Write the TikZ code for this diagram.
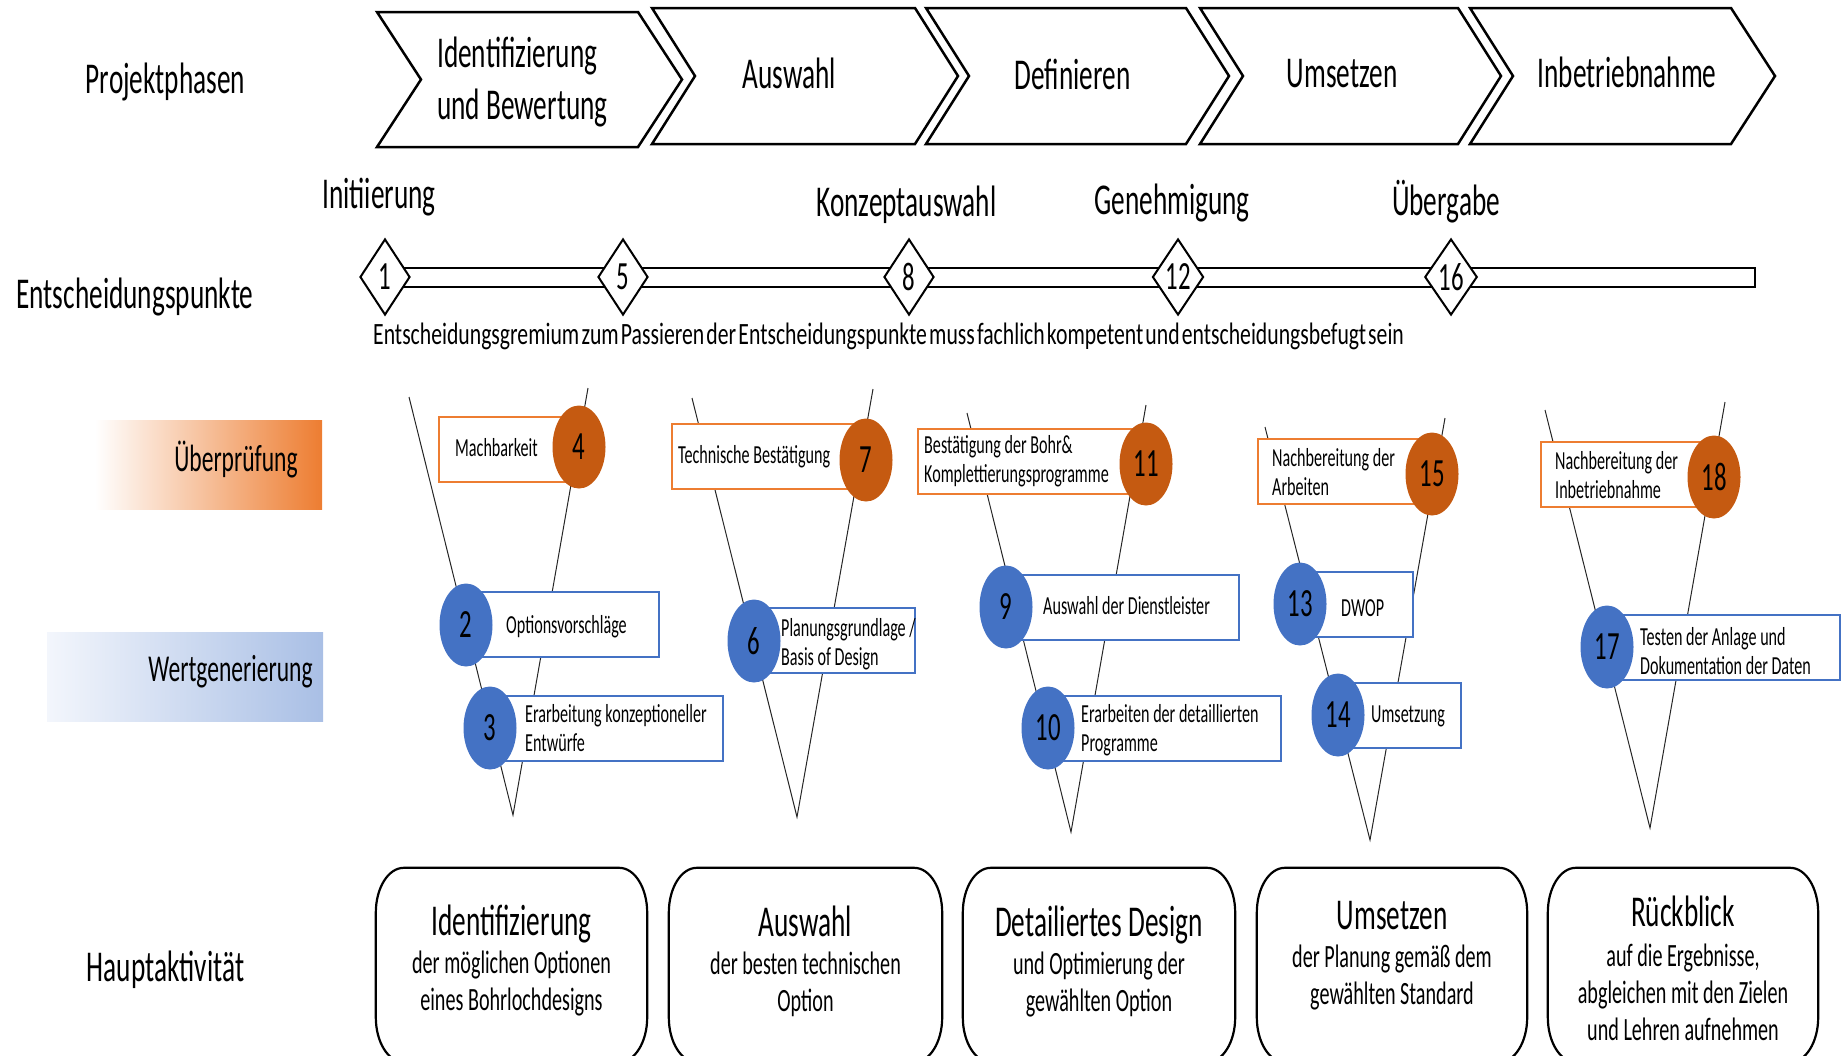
\documentclass[tikz,border=0pt]{standalone}
\usepackage{fontspec}
\setmainfont{Carlito}[FakeStretch=0.62]
\newfontfamily\notefont{Carlito}[FakeStretch=0.7]
\usetikzlibrary{shapes.geometric,calc}

\definecolor{oline}{HTML}{ED7D31}
\definecolor{odisk}{HTML}{C55A11}
\definecolor{bline}{HTML}{4472C4}
\definecolor{gbluer}{HTML}{A9BFE5}
\definecolor{gbluel}{HTML}{F3F6FC}

\pgfdeclarehorizontalshading{uebshade}{100bp}{color(0bp)=(white); color(25bp)=(white); color(34bp)=(white); color(75bp)=(oline); color(100bp)=(oline)}
\pgfdeclarehorizontalshading{wertshade}{100bp}{color(0bp)=(gbluel); color(25bp)=(gbluel); color(75bp)=(gbluer); color(100bp)=(gbluer)}

\newcommand\fsLbl{\fontsize{44}{50}\selectfont}
\newcommand\fsRow{\fontsize{38}{44}\selectfont}
\newcommand\fsNote{\notefont\fontsize{31}{34}\selectfont\spaceskip=2.2pt\relax}
\newcommand\fsItem{\fontsize{26}{29}\selectfont}
\newcommand\fsNum{\fontsize{40}{44}\selectfont}
\newcommand\fsSub{\fontsize{32.5}{37}\selectfont}

% rounded box with elliptic corners around a node
\newcommand\ellbox[1]{%
  \draw[hframe]
    ($(#1.north west)+(28,0)$) -- ($(#1.north east)+(-28,0)$)
    .. controls ($(#1.north east)+(-12.5,0)$) and ($(#1.north east)+(0,20)$) .. ($(#1.north east)+(0,45)$)
    -- ($(#1.south east)+(0,-45)$)
    .. controls ($(#1.south east)+(0,-20)$) and ($(#1.south east)+(-12.5,0)$) .. ($(#1.south east)+(-28,0)$)
    -- ($(#1.south west)+(28,0)$)
    .. controls ($(#1.south west)+(12.5,0)$) and ($(#1.south west)+(0,-20)$) .. ($(#1.south west)+(0,-45)$)
    -- ($(#1.north west)+(0,45)$)
    .. controls ($(#1.north west)+(0,20)$) and ($(#1.north west)+(12.5,0)$) .. cycle;}

\begin{document}
\begin{tikzpicture}[x=1pt,y=-1pt,
  chev/.style={draw=black,line width=2.5pt,fill=white,line join=miter},
  lbl/.style={font=\fsLbl,inner sep=0pt,anchor=base},
  rowlbl/.style={font=\fsRow,inner sep=0pt,anchor=base},
  funnel/.style={draw=black!85,line width=1pt},
  obox/.style={draw=oline,line width=2pt,fill=white,inner sep=0pt,minimum height=65},
  bbox/.style={draw=bline,line width=2pt,fill=white,inner sep=0pt,minimum height=65},
  odot/.style={ellipse,fill=odisk,inner sep=0pt,minimum width=53,minimum height=83,font=\fsNum},
  bdot/.style={ellipse,fill=bline,inner sep=0pt,minimum width=53,minimum height=83,font=\fsNum},
  itemtext/.style={font=\fsItem,align=left,anchor=west,inner sep=0pt},
  dpoint/.style={diamond,draw=black,line width=2pt,fill=white,inner sep=0pt,minimum width=50,minimum height=76,font=\fsNum},
  bar/.style={draw=black,line width=2pt,fill=white},
  hbox/.style={inner sep=0pt,minimum height=194},
  hframe/.style={draw=black,line width=2.2pt},
  htext/.style={font=\fsSub,align=center,anchor=north,inner sep=0pt}]
\useasboundingbox (0,0) rectangle (1841,1055);

% ---------- project phases ----------
\node[lbl] (lphase) at (165.5,93) {Projektphasen};
\draw[chev] (377,12) -- (638,12) -- (682,79.5) -- (638,147) -- (377,147) -- (421,79.5) -- cycle;
\draw[chev] (652,8) -- (915,8) -- (958,76) -- (915,144) -- (652,144) -- (695,76) -- cycle;
\draw[chev] (926,8) -- (1186,8) -- (1229,76) -- (1186,144) -- (926,144) -- (969,76) -- cycle;
\draw[chev] (1200,8) -- (1458,8) -- (1501,76) -- (1458,144) -- (1200,144) -- (1243,76) -- cycle;
\draw[chev] (1470,8) -- (1731,8) -- (1775,76) -- (1731,144) -- (1470,144) -- (1513,76) -- cycle;
\node[font=\fsLbl,align=left,anchor=north west,inner sep=0pt] (ph1) at (437,37) {Identifizierung\\[2pt]und Bewertung};
\node[lbl] (ph2) at (789.5,88) {Auswahl};
\node[lbl] (ph3) at (1072.5,89) {Definieren};
\node[lbl] (ph4) at (1342,87) {Umsetzen};
\node[lbl] (ph5) at (1627,87) {Inbetriebnahme};

% ---------- decision points ----------
\node[lbl] (ldec) at (135,308) {Entscheidungspunkte};
\node[lbl] (m1) at (379,208) {Initiierung};
\node[lbl] (m8) at (906.5,216) {Konzeptauswahl};
\node[lbl] (m12) at (1172,214) {Genehmigung};
\node[lbl] (m16) at (1446,215) {Übergabe};
\coordinate (barend) at (1755,277);
\coordinate (barstart) at (385,277);
\draw[bar] ($(barstart)+(0,-9.5)$) rectangle ($(barend)+(0,9.5)$);
\node[dpoint] (d1) at (barstart) {1};
\node[dpoint] (d5) at (623,277) {5};
\node[dpoint] (d8) at (909,277) {8};
\node[dpoint] (d12) at (1178,277) {12};
\node[dpoint] (d16) at (1451,277) {16};
\node[font=\fsNote,inner sep=0pt,anchor=base west] (dnote) at (373,344)
  {Entscheidungsgremium zum Passieren der Entscheidungspunkte muss fachlich kompetent und entscheidungsbefugt sein};

% ---------- row labels ----------
\path[shading=uebshade] (45,420) rectangle (322,509);
\path[shading=wertshade] (47,632) rectangle (323,721);
\node[rowlbl] (lueb) at (236,471) {Überprüfung};
\node[rowlbl] (lwert) at (230.5,681) {Wertgenerierung};

% ---------- funnels ----------
\coordinate (f1l) at (409,397); \coordinate (f1r) at (588,388); \coordinate (f1b) at (513,815);
\coordinate (f2l) at (692,398); \coordinate (f2r) at (873,389); \coordinate (f2b) at (797,817);
\coordinate (f3l) at (967,413); \coordinate (f3r) at (1146,405); \coordinate (f3b) at (1071,832);
\coordinate (f4l) at (1265,427); \coordinate (f4r) at (1445,418); \coordinate (f4b) at (1370,840);
\coordinate (f5l) at (1545,410); \coordinate (f5r) at (1725,402); \coordinate (f5b) at (1650,828);
\foreach \f in {1,...,5} \draw[funnel] (f\f l) -- (f\f b) -- (f\f r);

% ---------- review boxes ----------
\node[obox,minimum width=140] (ob4) at (509,449.5) {};
\node[obox,minimum width=194] (ob7) at (769,456.5) {};
\node[obox,minimum width=228] (ob11) at (1032,461.5) {};
\node[obox,minimum width=174] (ob15) at (1345,471.5) {};
\node[obox,minimum width=173] (ob18) at (1627.5,474.5) {};
\node[odot] (c4) at (579,447) {4};
\node[odot] (c7) at (866,460) {7};
\node[odot] (c11) at (1146,464) {11};
\node[odot] (c15) at (1432,474) {15};
\node[odot] (c18) at (1714,477) {18};
\node[itemtext] (t4) at (455,448) {Machbarkeit};
\node[itemtext] (t7) at (678,457) {Technische Bestätigung};
\node[itemtext] (t11) at (924,461) {Bestätigung der Bohr\&\\Komplettierungsprogramme};
\node[itemtext] (t15) at (1272,472) {Nachbereitung der\\Arbeiten};
\node[itemtext] (t18) at (1555,475) {Nachbereitung der\\Inbetriebnahme};

% ---------- value generation boxes ----------
\node[bbox,minimum width=193] (bb2) at (562.5,624.5) {};
\node[bbox,minimum width=233] (bb3) at (606.5,728.5) {};
\node[bbox,minimum width=161] (bb6) at (834.5,640.5) {};
\node[bbox,minimum width=233] (bb9) at (1122.5,607.5) {};
\node[bbox,minimum width=233] (bb10) at (1164.5,728.5) {};
\node[bbox,minimum width=113] (bb13) at (1356.5,604.5) {};
\node[bbox,minimum width=123] (bb14) at (1399.5,715.5) {};
\node[bbox,minimum width=233] (bb17) at (1723.5,647.5) {};
\node[bdot] (c2) at (466,625) {2};
\node[bdot] (c3) at (490,728) {3};
\node[bdot] (c6) at (754,641) {6};
\node[bdot] (c9) at (1006,607) {9};
\node[bdot] (c10) at (1048,728) {10};
\node[bdot] (c13) at (1300,604) {13};
\node[bdot] (c14) at (1338,715) {14};
\node[bdot] (c17) at (1607,647) {17};
\node[itemtext] (t2) at (506,627) {Optionsvorschläge};
\node[itemtext] (t3) at (525,728) {Erarbeitung konzeptioneller\\Entwürfe};
\node[itemtext] (t6) at (781,644) {Planungsgrundlage /\\Basis of Design};
\node[itemtext] (t9) at (1043,606) {Auswahl der Dienstleister};
\node[itemtext] (t10) at (1081,730) {Erarbeiten der detaillierten\\Programme};
\node[itemtext] (t13) at (1341,608) {DWOP};
\node[itemtext] (t14) at (1371,716) {Umsetzung};
\node[itemtext] (t17) at (1640,651) {Testen der Anlage und\\Dokumentation der Daten};

% ---------- main activities ----------
\node[lbl] (lhaupt) at (165.5,981) {Hauptaktivität};
\node[hbox,minimum width=271] (h1) at (511.5,965) {};
\node[hbox,minimum width=273] (h2) at (805.5,965) {};
\node[hbox,minimum width=272] (h3) at (1099,965) {};
\node[hbox,minimum width=270] (h4) at (1392,965) {};
\node[hbox,minimum width=270] (h5) at (1683,965) {};
\foreach \h in {h1,h2,h3,h4,h5} {\ellbox{\h}}
\node[htext] (h1t) at (511.5,905) {{\fsLbl Identifizierung}\\[1pt]der möglichen Optionen\\eines Bohrlochdesigns};
\node[htext] (h2t) at (805.5,906) {{\fsLbl Auswahl}\\[1pt]der besten technischen\\Option};
\node[htext] (h3t) at (1099,906) {{\fsLbl Detailiertes Design}\\[1pt]und Optimierung der\\gewählten Option};
\node[htext] (h4t) at (1392,901) {{\fsLbl Umsetzen}\\[1pt]der Planung gemäß dem\\gewählten Standard};
\node[htext] (h5t) at (1683,896) {{\fsLbl Rückblick}\\[3pt]auf die Ergebnisse,\\abgleichen mit den Zielen\\und Lehren aufnehmen};
\end{tikzpicture}
\end{document}
